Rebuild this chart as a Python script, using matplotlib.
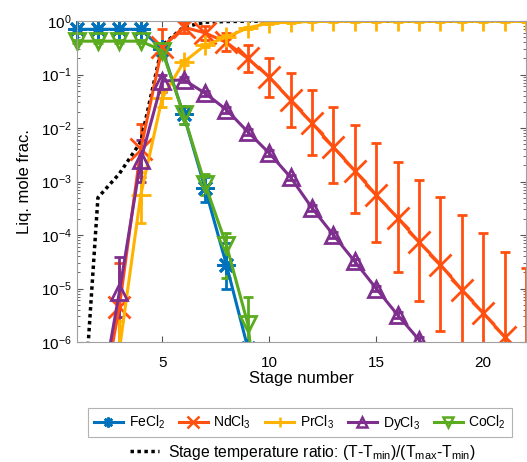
import numpy as np
import matplotlib
matplotlib.use("Agg")
import matplotlib.pyplot as plt
from matplotlib.lines import Line2D
from matplotlib.transforms import Bbox, TransformedBbox

plt.rcParams['font.family'] = ['Liberation Sans', 'DejaVu Sans']
plt.rcParams['mathtext.default'] = 'regular'

stages = np.arange(1, 23)

# ---- data (liquid mole fractions) ----
fecl2 = [0.70, 0.70, 0.70, 0.70, 0.30, 0.018, 7.6e-4, 2.8e-5, 7.8e-7, 1e-9,
         1e-10, 1e-10, 1e-10, 1e-10, 1e-10, 1e-10, 1e-10, 1e-10, 1e-10, 1e-10, 1e-10, 1e-10]
fecl2_lo = [0.66, 0.66, 0.66, 0.66, 0.24, 0.012, 4.2e-4, 1.0e-5, 7.8e-7, 1e-9,
            1e-10, 1e-10, 1e-10, 1e-10, 1e-10, 1e-10, 1e-10, 1e-10, 1e-10, 1e-10, 1e-10, 1e-10]
fecl2_hi = [0.74, 0.74, 0.74, 0.74, 0.36, 0.025, 1.2e-3, 7.0e-5, 7.8e-7, 1e-9,
            1e-10, 1e-10, 1e-10, 1e-10, 1e-10, 1e-10, 1e-10, 1e-10, 1e-10, 1e-10, 1e-10, 1e-10]

ndcl3 = [1e-10, 3e-8, 4.5e-6, 4.0e-3, 0.32, 0.77, 0.60, 0.40, 0.20, 0.090,
         0.033, 0.0124, 0.0044, 1.6e-3, 5.6e-4, 2.1e-4, 7.4e-5, 2.8e-5, 9.4e-6, 3.5e-6, 1.25e-6, 5e-7]
ndcl3_lo = [1e-10, 3e-8, 7e-7, 1.2e-3, 0.20, 0.60, 0.45, 0.28, 0.11, 0.038,
            0.0105, 0.0031, 9.4e-4, 2.6e-4, 7.4e-5, 2.0e-5, 5.9e-6, 1.6e-6, 4e-7, 1e-7, 3e-8, 1e-8]
ndcl3_hi = [1e-10, 3e-8, 3.0e-5, 1.2e-2, 0.70, 0.95, 0.80, 0.60, 0.35, 0.20,
            0.107, 0.051, 0.0248, 0.0114, 5.2e-3, 2.3e-3, 1.07e-3, 5.1e-4, 2.4e-4, 1.1e-4, 4.8e-5, 2.4e-5]

prcl3 = [1e-10, 1e-8, 7e-7, 5.6e-4, 0.036, 0.17, 0.35, 0.50, 0.74, 0.92,
         0.96, 0.98, 0.99, 0.99, 0.995, 0.995, 0.995, 0.995, 0.995, 0.995, 0.995, 0.995]
prcl3_lo = [1e-10, 1e-8, 2e-7, 1.7e-4, 0.025, 0.15, 0.32, 0.46, 0.70, 0.88,
            0.93, 0.95, 0.96, 0.96, 0.97, 0.97, 0.97, 0.97, 0.97, 0.97, 0.97, 0.97]
prcl3_hi = [1e-10, 1e-8, 2.5e-6, 1.5e-3, 0.050, 0.19, 0.38, 0.54, 0.78, 0.96,
            0.99, 1.0, 1.0, 1.0, 1.0, 1.0, 1.0, 1.0, 1.0, 1.0, 1.0, 1.0]

dycl3 = [1e-10, 4.5e-8, 8.5e-6, 2.5e-3, 0.075, 0.080, 0.045, 0.022, 0.0085, 3.4e-3,
         1.2e-3, 3.2e-4, 1.0e-4, 3.2e-5, 1.0e-5, 3.2e-6, 1.1e-6, 3.5e-7, 1.1e-7, 3.5e-8, 1.1e-8, 3.5e-9]
dycl3_lo = [1e-10, 4.5e-8, 2.9e-6, 1.0e-3, 0.047, 0.072, 0.040, 0.019, 0.0075, 3.0e-3,
            1.05e-3, 2.8e-4, 0.88e-4, 2.8e-5, 0.88e-5, 2.8e-6, 0.97e-6, 3.5e-7, 1.1e-7, 3.5e-8, 1.1e-8, 3.5e-9]
dycl3_hi = [1e-10, 4.5e-8, 3.9e-5, 6.0e-3, 0.100, 0.088, 0.050, 0.025, 0.0096, 3.9e-3,
            1.35e-3, 3.6e-4, 1.13e-4, 3.6e-5, 1.13e-5, 3.6e-6, 1.25e-6, 3.5e-7, 1.1e-7, 3.5e-8, 1.1e-8, 3.5e-9]

cocl2 = [0.42, 0.42, 0.42, 0.42, 0.28, 0.018, 9.0e-4, 6.5e-5, 2.2e-6, 1e-9,
         1e-10, 1e-10, 1e-10, 1e-10, 1e-10, 1e-10, 1e-10, 1e-10, 1e-10, 1e-10, 1e-10, 1e-10]
cocl2_lo = [0.39, 0.39, 0.39, 0.39, 0.22, 0.012, 5.5e-4, 1.6e-5, 7e-7, 1e-9,
            1e-10, 1e-10, 1e-10, 1e-10, 1e-10, 1e-10, 1e-10, 1e-10, 1e-10, 1e-10, 1e-10, 1e-10]
cocl2_hi = [0.45, 0.45, 0.45, 0.45, 0.34, 0.025, 1.4e-3, 1.1e-4, 7e-6, 1e-9,
            1e-10, 1e-10, 1e-10, 1e-10, 1e-10, 1e-10, 1e-10, 1e-10, 1e-10, 1e-10, 1e-10, 1e-10]

temp_ratio = [5e-10, 5e-4, 1.4e-3, 5.5e-3, 0.35, 0.77, 0.95, 0.98, 0.99, 0.995,
              1.0, 1.0, 1.0, 1.0, 1.0, 1.0, 1.0, 1.0, 1.0, 1.0, 1.0, 1.0]

names = ['FeCl$_2$', 'NdCl$_3$', 'PrCl$_3$', 'DyCl$_3$', 'CoCl$_2$']
temp_label = 'Stage temperature ratio: (T-T$_{min}$)/(T$_{max}$-T$_{min}$)'

series = [(fecl2, fecl2_lo, fecl2_hi), (ndcl3, ndcl3_lo, ndcl3_hi),
          (prcl3, prcl3_lo, prcl3_hi), (dycl3, dycl3_lo, dycl3_hi),
          (cocl2, cocl2_lo, cocl2_hi)]
colors = ['#0072BD', '#FF5010', '#FFB300', '#7E2F8E', '#5AAB1E']
markers = [(8, 2, 0), 'x', '+', '^', 'v']
msizes = [13, 16, 14, 12, 12]

fig = plt.figure(figsize=(5.27, 4.62), dpi=100)
ax = fig.add_axes([0.1452, 0.2597, 0.853, 0.6948])

for (v, lo, hi), c, m, ms in zip(series, colors, markers, msizes):
    v = np.array(v); lo = np.array(lo); hi = np.array(hi)
    yerr = np.vstack([v - lo, hi - v])
    ax.errorbar(stages, v, yerr=yerr, color=c, marker=m, markersize=ms,
                markerfacecolor='none', markeredgewidth=2.0, linewidth=2.2,
                elinewidth=2.0, capsize=3.6, capthick=2.0)

ax.plot(stages, temp_ratio, color='black', linestyle=(0, (1, 1)), linewidth=2.5)

ax.set_yscale('log')
ax.set_xlim(1, 22)
ax.set_ylim(1e-6, 1)

# allow markers at the left edge to extend past the axis (as in the original)
clip = TransformedBbox(Bbox([[-0.04, 0.0], [1.04, 1.0]]), ax.transAxes)
for art in list(ax.lines) + list(ax.collections):
    art.set_clip_box(clip)

ax.set_xticks([5, 10, 15, 20])
ax.set_yticks([1e-6, 1e-5, 1e-4, 1e-3, 1e-2, 1e-1, 1])
ax.tick_params(which='both', direction='in', top=True, right=True,
               labelsize=11, color='#555555')
ax.tick_params(axis='x', pad=10)
ax.tick_params(which='major', length=4)
ax.tick_params(which='minor', length=2)
for s in ax.spines.values():
    s.set_color('#a0a0a0')
    s.set_linewidth(0.8)
    s.set_zorder(5)

ax.set_xlabel('Stage number', fontsize=12, labelpad=1)
ax.set_ylabel('Liq. mole frac.', fontsize=12, labelpad=6)

handles = [Line2D([], [], color=c, marker=m, markersize=ms * 0.55,
                  markerfacecolor='none', markeredgewidth=1.8, linewidth=2.2)
           for c, m, ms in zip(colors, markers, msizes)]
leg = fig.legend(handles, names, loc='upper center', ncol=5,
                 bbox_to_anchor=(300 / 527, 1 - 401 / 462), fontsize=10,
                 frameon=True, fancybox=False, edgecolor='#a0a0a0',
                 handlelength=2.1, handletextpad=0.4, columnspacing=1.0,
                 borderpad=0.4)
leg.get_frame().set_linewidth(0.8)

leg2 = fig.legend([Line2D([], [], color='black', linestyle=(0, (1, 1)), linewidth=2.5)],
                  [temp_label], loc='center', bbox_to_anchor=(303 / 527, 1 - 452 / 462),
                  fontsize=11.3, frameon=False, handlelength=1.8, handletextpad=0.6)

fig.savefig('out.png', dpi=100)
